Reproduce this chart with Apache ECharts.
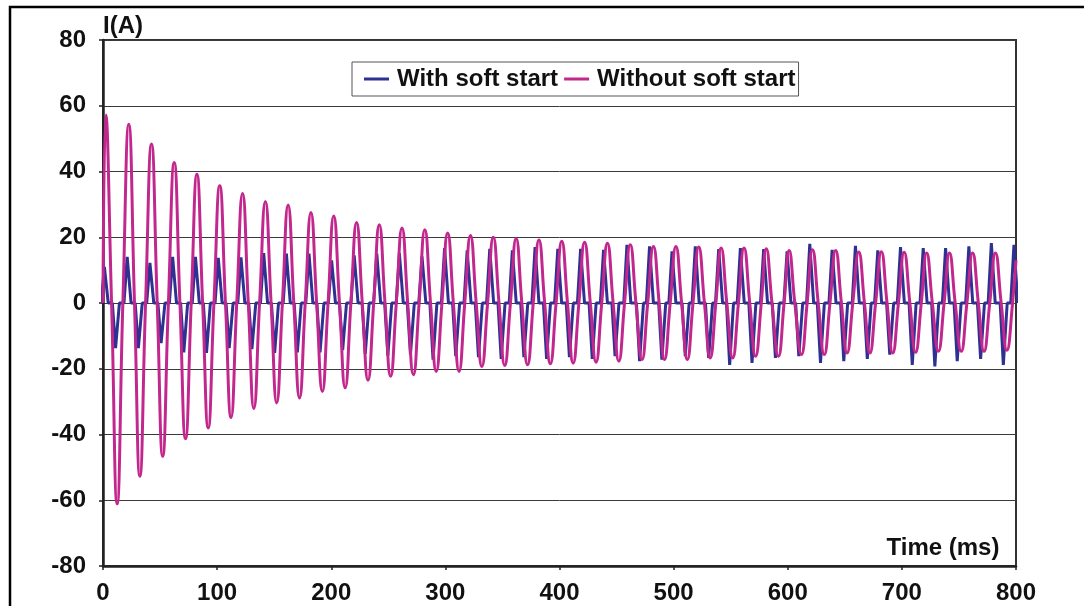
<!DOCTYPE html>
<html>
<head>
<meta charset="utf-8">
<script src="https://cdn.jsdelivr.net/npm/echarts@6/dist/echarts.min.js"></script>
<style>
html,body{margin:0;padding:0;background:#fff;}
#chart{width:1084px;height:606px;}
</style>
</head>
<body>
<div id="chart"></div>
<script>
// ---- data ----
const seriesNames = ['With soft start', 'Without soft start'];
const xTickValues = [0, 100, 200, 300, 400, 500, 600, 700, 800];

// With soft start: current pulses (peak / trough time in ms and value in A)
const bluePeakT = [1.2, 21.2, 41.1, 61.0, 81.0, 101.0, 120.9, 140.8, 160.7, 180.5, 200.3,
  220.1, 239.9, 259.7, 279.5, 299.3, 319.1, 338.9, 358.7, 378.6, 398.5, 418.5,
  438.6, 459.1, 478.9, 498.6, 519.0, 539.5, 558.5, 578.9, 599.4, 619.3, 638.9, 659.3,
  678.9, 698.8, 718.7, 738.3, 758.7, 778.4, 798.2];
const bluePeakV = [11, 14, 12.2, 14, 14, 13.7, 13.9, 15.2, 15, 15, 13,
  14.5, 15, 15.2, 14.2, 16.7, 16, 16.5, 16, 17, 16.5, 16.5,
  16.2, 17.7, 17.2, 15.7, 17.2, 16.4, 16.7, 16.4, 15.7, 18.0, 16.2, 17.4, 16.0, 17.0,
  16.7, 16.7, 17.2, 18.2, 17.7];
const blueTroughT = [11.0, 31.0, 50.9, 70.8, 90.7, 110.6, 130.5, 150.4, 170.3, 190.2, 210.0,
  229.8, 249.6, 269.4, 289.2, 309.1, 329.0, 348.9, 368.8, 388.7, 408.7, 428.7,
  448.7, 470.2, 489.7, 510.2, 530.7, 549.1, 568.7, 589.2, 609.7, 628.7, 649.1, 669.7,
  689.4, 709.1, 728.9, 748.5, 769.0, 788.9];
const blueTroughV = [-13.7, -13.7, -12.2, -15, -15.2, -13.7, -14, -15.2, -15, -15, -14.3,
  -15.5, -16, -15.7, -17.2, -16.2, -16.5, -17, -16.5, -17, -16.5, -17,
  -16.2, -17.7, -17.2, -16.2, -16.7, -18.8, -18.2, -16.7, -16.2, -18.2, -17.7, -17.0,
  -15.7, -18.8, -19.3, -17.7, -17.0, -18.8];
const bluePulseRiseMs = 2.8;   // pulse leaves zero this long before its extreme
const bluePulseFallMs = 3.4;   // and is back at zero this long after

// Without soft start: decaying sinusoid extremes
const magentaPeakT = [2.5, 22.6, 42.5, 62.4, 82.3, 102.3, 122.3, 142.3, 162.2, 182.2, 202.2,
  222.2, 242.1, 262, 282, 302, 322, 342, 362, 382, 402, 422,
  442, 462, 482.3, 502, 522, 541.6, 561.7, 581.2, 601.2, 621.7, 642, 662.2, 682, 702,
  721.7, 741.7, 762, 782];
const magentaPeakV = [57.2, 54.4, 48.4, 42.7, 39.2, 35.7, 33.3, 30.9, 29.8, 27.5, 26.5,
  24.5, 23.8, 22.8, 22.3, 21.3, 20.5, 20, 19.6, 19.2, 18.8, 18.5,
  18.2, 17.7, 17.2, 17.2, 17, 16.7, 16.7, 16.5, 16, 16.2, 16, 15.5, 15.6, 15.4,
  15.2, 15.2, 15.2, 15.2];
const magentaTroughT = [12.4, 32.3, 52.3, 72.3, 92.2, 112.2, 132.2, 152.2, 172.2, 192.2, 212.2,
  232.2, 252, 272, 292, 312, 332, 352, 372, 392, 412, 432,
  452, 472.3, 492, 512, 532, 551.8, 571.8, 591.8, 612, 632, 652, 672, 692, 712,
  732, 752, 772, 792];
const magentaTroughV = [-61.1, -52.7, -46.6, -41.3, -38.0, -34.8, -32.1, -30.4, -28.9, -26.9, -25.8,
  -23.5, -22.3, -21.8, -20.8, -20.8, -19.3, -19, -18.8, -18.5, -18.3, -18,
  -17.7, -17.2, -17.2, -17.2, -16.7, -16.7, -16.2, -16.2, -15.7, -15.7, -15.2, -15.2,
  -15.2, -15, -14.7, -14.7, -14.7, -14.4];
const magentaZeroLagMs = 5;    // crosses zero about 5 ms after each extreme
const magentaStart = [0, 0];
const magentaEnd = [800, 13];

// ---- build line data ----
function buildBlue() {
  const pulses = [];
  bluePeakT.forEach((t, i) => pulses.push([t, bluePeakV[i]]));
  blueTroughT.forEach((t, i) => pulses.push([t, blueTroughV[i]]));
  pulses.sort((a, b) => a[0] - b[0]);
  const out = [];
  pulses.forEach(p => {
    out.push([p[0] - bluePulseRiseMs, 0]);
    out.push([p[0], p[1]]);
    out.push([p[0] + bluePulseFallMs, 0]);
  });
  return out;
}
function buildMagenta() {
  const out = [magentaStart];
  for (let k = 0; k < magentaPeakT.length; k++) {
    out.push([magentaPeakT[k], magentaPeakV[k]]);
    out.push([magentaPeakT[k] + magentaZeroLagMs, 0]);
    out.push([magentaTroughT[k], magentaTroughV[k]]);
    out.push([magentaTroughT[k] + magentaZeroLagMs, 0]);
  }
  out.push(magentaEnd);
  return out;
}

const FONT = "'Liberation Sans', Arial, Helvetica, sans-serif";
const chart = echarts.init(document.getElementById('chart'), null, {renderer: 'canvas'});
chart.setOption({
  animation: false,
  backgroundColor: '#fff',
  grid: {left: 103, right: 68, top: 40, bottom: 40, show: true,
         borderColor: '#333', borderWidth: 2, backgroundColor: 'transparent'},
  legend: {
    data: seriesNames,
    left: 352, top: 62,
    icon: 'rect', itemWidth: 25, itemHeight: 3, itemGap: 6,
    padding: [5, 3, 5, 12],
    borderColor: '#555', borderWidth: 1, backgroundColor: '#fff',
    textStyle: {fontFamily: FONT, fontSize: 24, fontWeight: 'bold', color: '#111', padding: [0, 0, 0, 3]}
  },
  xAxis: {
    type: 'value', min: xTickValues[0], max: xTickValues[xTickValues.length - 1], interval: 100,
    axisLine: {onZero: false, lineStyle: {color: '#222', width: 2.5}},
    axisTick: {show: true, length: 4, lineStyle: {color: '#222', width: 1.5}},
    axisLabel: {fontFamily: FONT, fontSize: 24, fontWeight: 'bold', color: '#111', margin: 15},
    splitLine: {show: false}
  },
  yAxis: {
    type: 'value', min: -80, max: 80, interval: 20,
    axisLine: {show: true, lineStyle: {color: '#222', width: 2.5}},
    axisTick: {show: true, length: 4, lineStyle: {color: '#222', width: 1.5}},
    axisLabel: {fontFamily: FONT, fontSize: 24, fontWeight: 'bold', color: '#111', margin: 17},
    splitLine: {show: true, lineStyle: {color: '#3a3a3a', width: 1}}
  },
  graphic: [
    {type: 'rect', shape: {x: 10, y: 7, width: 1200, height: 800},
     style: {fill: 'none', stroke: '#000', lineWidth: 2.5}, silent: true},
    {type: 'text', left: 103, top: 14,
     style: {text: 'I(A)', font: 'bold 24px ' + FONT, fill: '#111'}},
    {type: 'text', x: 943, y: 548,
     style: {text: 'Time (ms)', font: 'bold 24px ' + FONT, fill: '#111',
             align: 'center', verticalAlign: 'middle'}}
  ],
  series: [
    {name: seriesNames[0], type: 'line', data: buildBlue(), showSymbol: false,
     color: '#2E3192', lineStyle: {width: 3, color: '#2E3192'}},
    {name: seriesNames[1], type: 'line', data: buildMagenta(), showSymbol: false, smooth: 0.5,
     color: '#C2278E', lineStyle: {width: 3, color: '#C2278E'}}
  ]
});
</script>
</body>
</html>
